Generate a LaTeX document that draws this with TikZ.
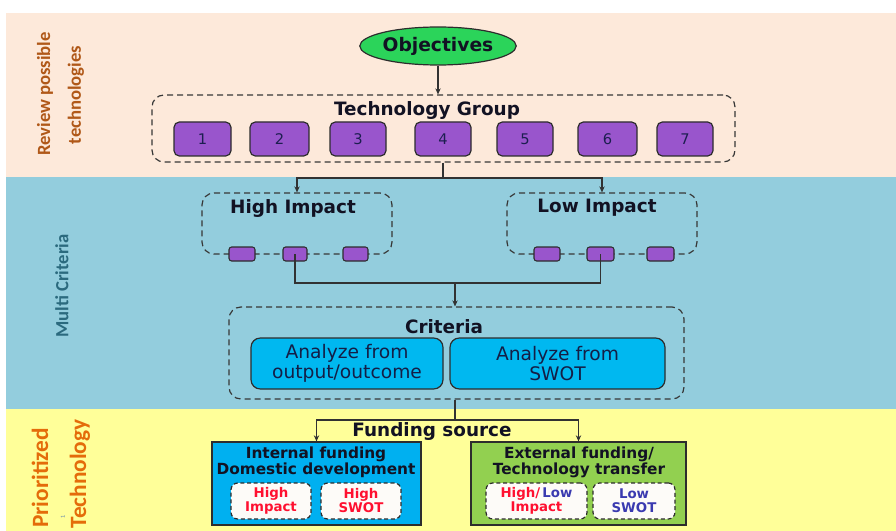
\documentclass[tikz,border=0pt]{standalone}
\usepackage{fontspec}
\setmainfont{DejaVu Sans}
\newfontfamily\calfont{Carlito}
\usetikzlibrary{arrows.meta,shapes.geometric}

\definecolor{peach}{RGB}{253,233,218}
\definecolor{bandblue}{RGB}{147,205,221}
\definecolor{bandyellow}{RGB}{255,255,153}
\definecolor{objgreen}{RGB}{43,212,90}
\definecolor{purp}{RGB}{153,85,204}
\definecolor{edge}{RGB}{45,45,45}
\definecolor{dashc}{RGB}{55,55,55}
\definecolor{connc}{RGB}{50,50,50}
\definecolor{navy}{RGB}{28,30,80}
\definecolor{critnavy}{RGB}{20,30,70}
\definecolor{titlec}{RGB}{18,18,35}
\definecolor{critcyan}{RGB}{0,184,240}
\definecolor{intcyan}{RGB}{0,176,240}
\definecolor{extgreen}{RGB}{146,208,80}
\definecolor{tagwhite}{RGB}{253,251,248}
\definecolor{tagred}{RGB}{255,16,48}
\definecolor{tagblue}{RGB}{58,58,176}
\definecolor{sidebrown}{RGB}{176,88,24}
\definecolor{sideteal}{RGB}{43,106,126}
\definecolor{sideorange}{RGB}{228,108,10}
\definecolor{tinyblue}{RGB}{106,140,175}

\begin{document}
\begin{tikzpicture}[x=0.75pt,y=-0.75pt,
  sz/.style 2 args={minimum width=#1*0.75pt, minimum height=#2*0.75pt},
  grp/.style={draw=dashc, dash pattern=on 4.5pt off 3pt, line width=0.9pt,
    rounded corners=9pt, inner sep=0pt},
  techbox/.style={draw=edge, fill=purp, rounded corners=4pt, line width=0.9pt,
    inner sep=0pt, text=navy, font=\fontsize{11}{12}\selectfont},
  minibox/.style={draw=edge, fill=purp, rounded corners=2pt, line width=0.8pt,
    inner sep=0pt},
  critbox/.style={draw=edge, fill=critcyan, rounded corners=7pt, line width=0.9pt,
    inner sep=0pt, align=center, text=critnavy, font=\fontsize{14}{15}\selectfont},
  fundbox/.style={draw=edge, line width=1pt, inner sep=0pt},
  fundtext/.style={align=center, inner sep=0pt, text=titlec,
    font=\bfseries\fontsize{11.5}{10.8}\selectfont},
  tagbox/.style={draw=edge, fill=tagwhite, dash pattern=on 3pt off 2pt,
    rounded corners=5pt, line width=0.9pt, inner sep=0pt, align=center,
    font=\bfseries\fontsize{10}{10.5}\selectfont},
  conn/.style={draw=connc, line width=1.1pt},
  arr/.style={conn, -{Stealth[length=4.5pt,width=4pt]}},
  title/.style={inner sep=0pt, text=titlec, font=\bfseries\fontsize{13.8}{14}\selectfont},
  side/.style={inner sep=0pt, rotate=90, font=\calfont\bfseries\fontsize{14}{15}\selectfont},
  bigside/.style={side, text=sideorange, font=\calfont\bfseries\fontsize{17.5}{18}\selectfont},
]
\useasboundingbox (0,0) rectangle (896,531);
\fill[white] (0,0) rectangle (896,531);

% background bands
\fill[peach] (6,13) rectangle (896,177);
\fill[bandblue] (6,177) rectangle (896,409);
\fill[bandyellow] (6,409) rectangle (896,531);

% side labels
\node[side, text=sidebrown] (lrev) at (45,94) {Review possible};
\node[side, text=sidebrown] (ltech) at (76,95) {technologies};
\node[side, text=sideteal] (lmulti) at (62,286) {Multi Criteria};
\node[bigside] (lprio) at (40,478) {Prioritized};
\node[bigside] (lptech) at (80,474) {Technology};
\node[inner sep=0pt, rotate=90, text=tinyblue, font=\fontsize{4}{4}\selectfont] (tiny) at (63,517) {1};

% objectives and technology group
\node[ellipse, draw=edge, fill=objgreen, line width=0.9pt, sz={152}{38},
  inner sep=0pt, text=titlec,
  font=\bfseries\fontsize{14}{14}\selectfont] (obj) at (438,46) {Objectives};
\node[grp, sz={583}{67}] (tg) at (443.5,128.5) {};
\node[title] (tgt) at (427,110) {Technology Group};
\node[techbox, sz={57}{34}] (t1) at (202.5,139) {1};
\node[techbox, sz={59}{34}] (t2) at (279.5,139) {2};
\node[techbox, sz={56}{34}] (t3) at (358,139) {3};
\node[techbox, sz={56}{34}] (t4) at (443,139) {4};
\node[techbox, sz={56}{34}] (t5) at (525,139) {5};
\node[techbox, sz={59}{34}] (t6) at (607.5,139) {6};
\node[techbox, sz={56}{34}] (t7) at (685,139) {7};

% impact groups
\node[grp, sz={190}{61}] (hi) at (297,223.5) {};
\node[title] (hit) at (293,208) {High Impact};
\node[minibox, sz={26}{14}] (h1) at (242,254) {};
\node[minibox, sz={24}{14}] (h2) at (295,254) {};
\node[minibox, sz={25}{14}] (h3) at (355.5,254) {};
\node[grp, sz={190}{61}] (lo) at (602,223.5) {};
\node[title] (lot) at (597,208) {Low Impact};
\node[minibox, sz={26}{14}] (l1) at (547,254) {};
\node[minibox, sz={27}{14}] (l2) at (600.5,254) {};
\node[minibox, sz={27}{14}] (l3) at (660.5,254) {};

% criteria
\node[grp, sz={455}{92}] (cr) at (456.5,353) {};
\node[title] (crt) at (444,327) {Criteria};
\node[critbox, sz={192}{51}] (c1) at (347,363.5) {Analyze from\\output/outcome};
\node[critbox, sz={215}{51}] (c2) at (557.5,363.5) {Analyze from\\SWOT};

% funding
\node[title] (fst) at (432,431) {Funding source};
\node[fundbox, fill=intcyan, sz={209}{83}] (fi) at (316.5,483.5) {};
\node[fundtext] (fitxt) at (316,462) {Internal funding\\Domestic development};
\node[tagbox, sz={80}{36}, text=tagred] (fi1) at (271,501) {High\\Impact};
\node[tagbox, sz={80}{36}, text=tagred] (fi2) at (361,501) {High\\SWOT};
\node[fundbox, fill=extgreen, sz={215}{83}] (fe) at (578.5,483.5) {};
\node[fundtext] (fetxt) at (579,462) {External funding/\\Technology transfer};
\node[tagbox, sz={101}{36}] (fe1) at (536.5,501) {\textcolor{tagred}{High/}\,\textcolor{tagblue}{Low}\\\textcolor{tagred}{Impact}};
\node[tagbox, sz={82}{36}, text=tagblue] (fe2) at (634,501) {Low\\SWOT};

% connectors
\coordinate (j1) at (443,178);
\coordinate (j2) at (455,283);
\coordinate (j3) at (455,420);
\draw[arr] (obj.south) -- (tg.north -| obj.south);
\draw[conn] (tg.south -| j1) -- (j1);
\draw[arr] (j1) -| (hi.north);
\draw[arr] (j1) -| (lo.north);
\draw[conn] (h2.center) |- (j2);
\draw[conn] (l2.center) |- (j2);
\draw[arr] (j2) -- (cr.north -| j2);
\draw[conn] (cr.south -| j3) -- (j3);
\draw[arr] (j3) -| (fi.north);
\draw[arr] (j3) -| (fe.north);
\end{tikzpicture}
\end{document}
